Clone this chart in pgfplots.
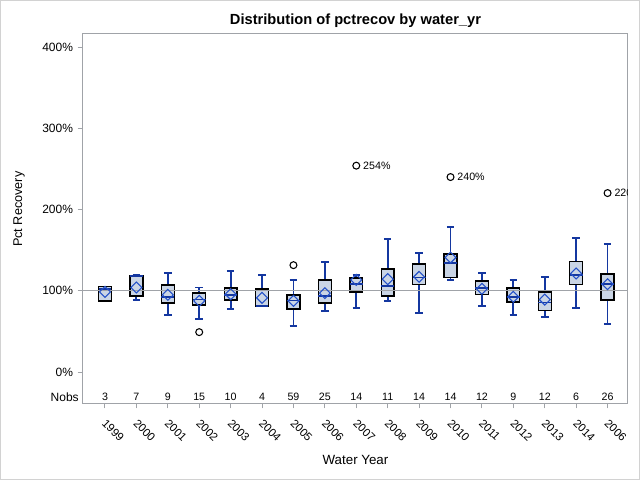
\documentclass[border=0pt]{standalone}
\usepackage{pgfplots}
\pgfplotsset{compat=1.18}
\usepgfplotslibrary{statistics}
\usepackage{fontspec}
\setmainfont{Liberation Sans}
\definecolor{boxfill}{RGB}{202,213,229}
\definecolor{wblue}{RGB}{20,55,160}
\definecolor{mblue}{RGB}{35,80,200}
\definecolor{framegray}{RGB}{160,163,168}
\definecolor{bordergray}{RGB}{210,210,210}
\newcommand{\bp}[6]{\addplot[wblue, line width=1.35pt, boxplot prepared={draw direction=y, draw position=#1, lower whisker=#2, lower quartile=#3, median=#4, upper quartile=#5, upper whisker=#6, box extend=0.41, whisker extend=0.24}] coordinates {};}
\begin{document}
\begin{tikzpicture}
\path[use as bounding box] (0,0) rectangle (480pt,360pt);
\begin{axis}[
  at={(62.25pt,57.75pt)}, anchor=south west,
  scale only axis, width=408.75pt, height=276.75pt,
  xmin=-0.7, xmax=16.65, ymin=-38, ymax=416,
  xtick={0,...,16},
  xticklabels={1999,2000,2001,2002,2003,2004,2005,2006,2007,2008,2009,2010,2011,2012,2013,2014,2006},
  ytick={0,100,200,300,400},
  yticklabel={\pgfmathprintnumber{\tick}\%},
  /pgf/number format/assume math mode=true,
  xtick pos=lower, ytick pos=left,
  tick align=outside, major tick length=4pt,
  tick style={framegray, line width=0.75pt},
  axis line style={framegray, line width=0.75pt},
  ticklabel style={font=\fontsize{9}{11}\selectfont},
  xticklabel style={xshift=1.5pt, yshift=-6pt, rotate=-45, anchor=north west, inner sep=1pt, font=\fontsize{8.5}{10}\selectfont},
  title={Distribution of pctrecov by water\_yr},
  title style={font=\bfseries\fontsize{11}{13}\selectfont, at={(axis description cs:0.5,1)}, anchor=center, yshift=4pt},
  xlabel={Water Year},
  xlabel style={font=\fontsize{10}{12}\selectfont, at={(axis description cs:0.5,-0.1545)}, anchor=center},
  ylabel={Pct Recovery},
  ylabel style={font=\fontsize{9.5}{11}\selectfont, at={(axis description cs:-0.1174,0.525)}, anchor=center},
  boxplot/every box/.style={draw=black, fill=boxfill, line width=1pt},
  boxplot/every median/.style={draw=wblue, line width=1.2pt},
  boxplot/every whisker/.style={draw=wblue, line width=1.35pt},
  clip=false,
]
\bp{0}{87.3}{87.3}{102}{105.3}{105.3}
\bp{1}{88.9}{93.5}{118}{118.6}{119.3}
\bp{2}{70.1}{84.9}{92.5}{107}{121.8}
\bp{3}{65.2}{82.4}{89.5}{97.2}{104.1}
\bp{4}{77.5}{88.6}{95}{103.3}{124.2}
\bp{5}{81.2}{81.2}{81.2}{102.1}{119.3}
\bp{6}{56.5}{77.5}{88}{94.7}{113.5}
\bp{7}{75.0}{84.9}{93.8}{113.5}{135.7}
\bp{8}{79.1}{98.4}{108.2}{115.6}{119.7}
\bp{9}{87.7}{93.5}{105.7}{126.7}{163.6}
\bp{10}{72.5}{108.2}{116.4}{132.9}{146.4}
\bp{11}{113.2}{116.4}{134.1}{145.2}{178.4}
\bp{12}{81.2}{95.9}{103.3}{111.9}{121.8}
\bp{13}{70.1}{86.1}{92.6}{103.3}{113.5}
\bp{14}{67.6}{76.2}{85.6}{98.4}{116.8}
\bp{15}{79.1}{108.2}{119.3}{135.7}{164.9}
\bp{16}{59}{88.6}{108.2}{120.6}{157.5}
\draw[framegray, line width=0.75pt] (axis cs:-0.7,100) -- (axis cs:16.65,100);
\addplot[only marks, mark=square, mark size=2.9pt, mark options={rotate=45, draw=mblue, line width=0.8pt}] coordinates {
(0,98.8) (1,104.1) (2,95.1) (3,87.7) (4,95.9) (5,91.4) (6,87.7) (7,97.2) (8,113.5) (9,114.4) (10,117.2) (11,141) (12,102.5) (13,92.6) (14,89.3) (15,121.3) (16,108.2)};
\addplot[only marks, mark=o, mark size=2.6pt, mark options={draw=black, line width=0.8pt}] coordinates {
(3,49.2) (6,131.6) (8,254) (11,240) (16,220.3)};
\node[anchor=west, font=\fontsize{8}{10}\selectfont, inner sep=0pt, xshift=5pt] at (axis cs:8,254) {254\%};
\node[anchor=west, font=\fontsize{8}{10}\selectfont, inner sep=0pt, xshift=5pt] at (axis cs:11,240) {240\%};
\begin{scope}
\clip (rel axis cs:0,0) rectangle (rel axis cs:1,1);
\node[anchor=west, font=\fontsize{8}{10}\selectfont, inner sep=0pt, xshift=5pt] at (axis cs:16,220.3) {220\%};
\end{scope}
\node[anchor=east, font=\fontsize{9}{11}\selectfont, inner sep=0pt, xshift=-3pt] at (axis cs:-0.7,-30.5) {Nobs};
\tikzset{nobs/.style={font=\fontsize{8}{10}\selectfont, inner sep=0pt}}
\node[nobs] at (axis cs:0,-30.5) {3};
\node[nobs] at (axis cs:1,-30.5) {7};
\node[nobs] at (axis cs:2,-30.5) {9};
\node[nobs] at (axis cs:3,-30.5) {15};
\node[nobs] at (axis cs:4,-30.5) {10};
\node[nobs] at (axis cs:5,-30.5) {4};
\node[nobs] at (axis cs:6,-30.5) {59};
\node[nobs] at (axis cs:7,-30.5) {25};
\node[nobs] at (axis cs:8,-30.5) {14};
\node[nobs] at (axis cs:9,-30.5) {11};
\node[nobs] at (axis cs:10,-30.5) {14};
\node[nobs] at (axis cs:11,-30.5) {14};
\node[nobs] at (axis cs:12,-30.5) {12};
\node[nobs] at (axis cs:13,-30.5) {9};
\node[nobs] at (axis cs:14,-30.5) {12};
\node[nobs] at (axis cs:15,-30.5) {6};
\node[nobs] at (axis cs:16,-30.5) {26};
\end{axis}
\draw[bordergray, line width=1pt] (0.5pt,0.5pt) rectangle (479.5pt,359.5pt);
\end{tikzpicture}
\end{document}
